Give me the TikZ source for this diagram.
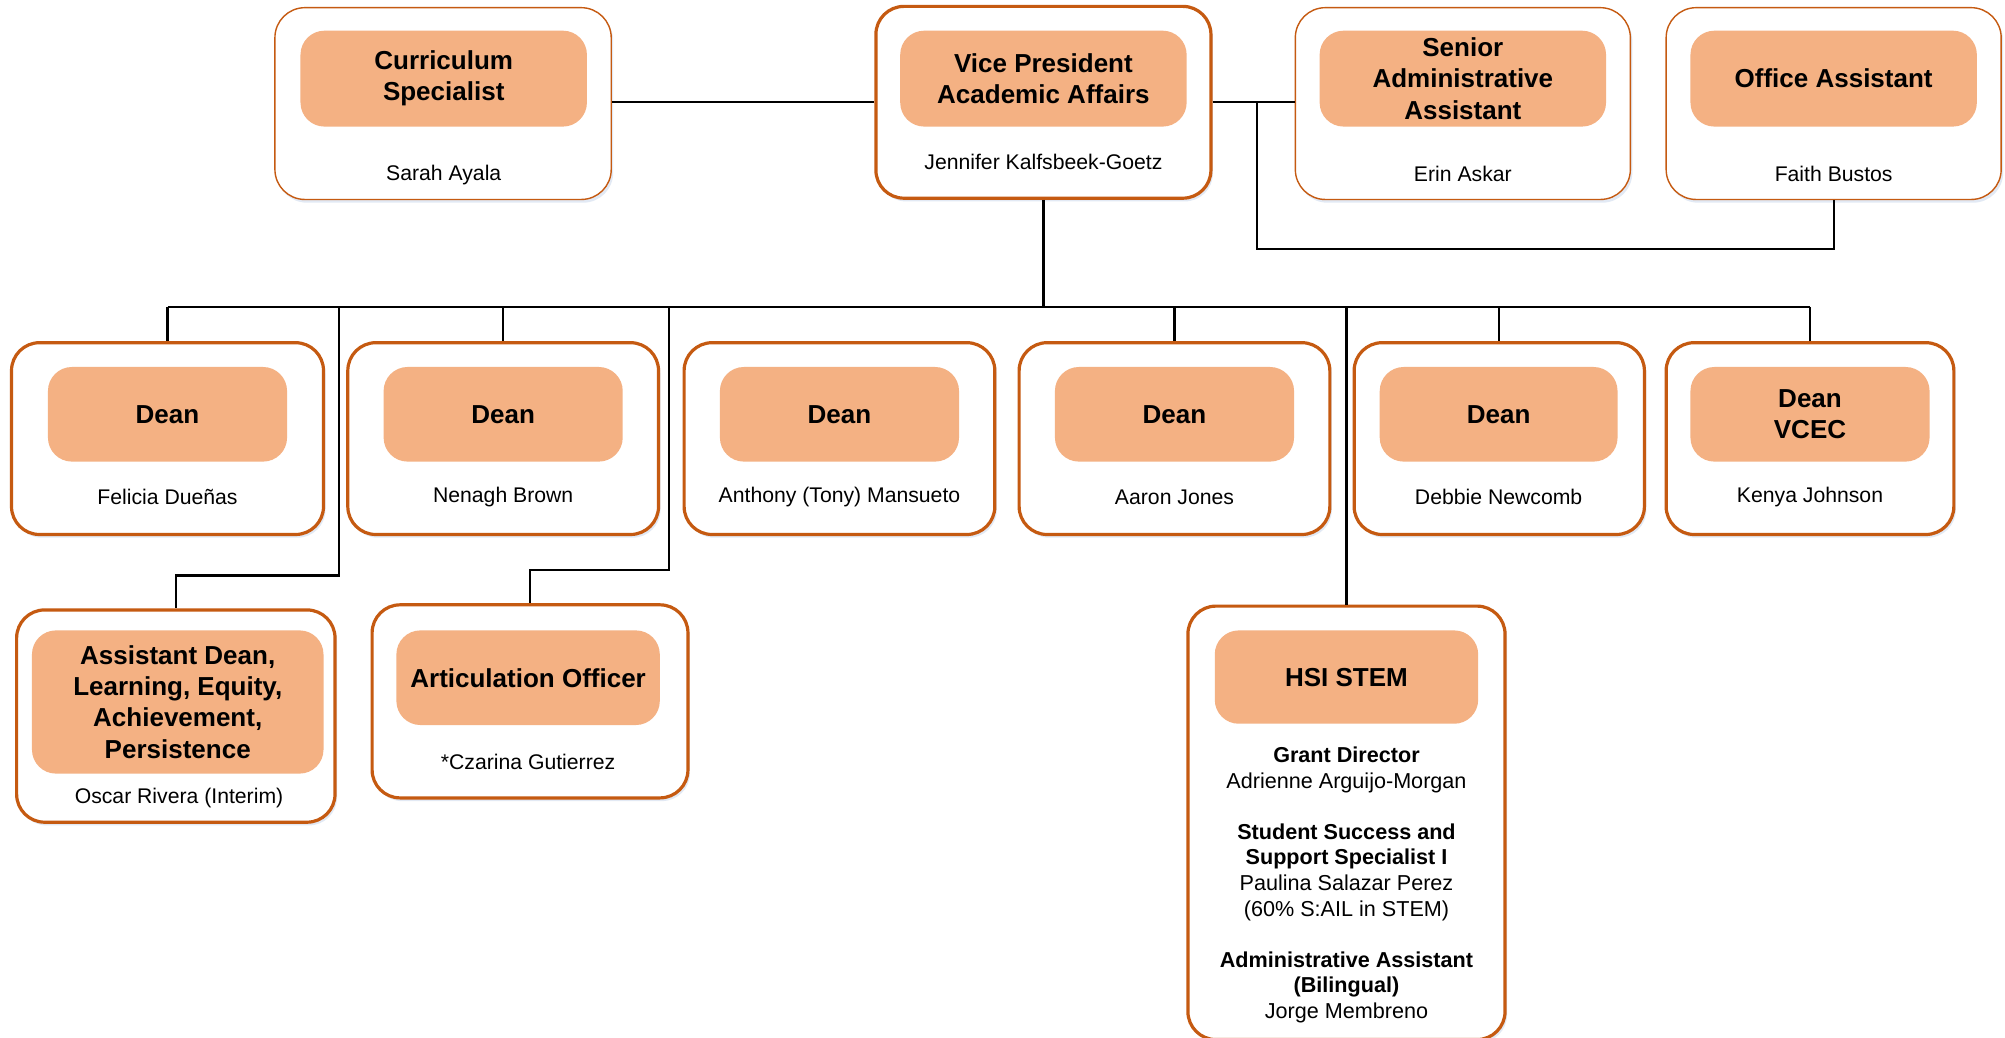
\documentclass[tikz,border=0pt]{standalone}
\usepackage{fontspec}
\setmainfont{Liberation Sans}
\usetikzlibrary{shadows}
\definecolor{bord}{HTML}{C55A11}
\definecolor{fillc}{HTML}{F4B183}
\definecolor{glowc}{HTML}{D6E1F0}
\newcommand\ttlfont{\fontsize{13}{15.6}\selectfont\bfseries}
\newcommand\nmfont{\fontsize{10.6}{12.7}\selectfont}
\newcommand\hsifont{\fontsize{10.8}{12.8}\selectfont}
\tikzset{
 sz/.style 2 args={minimum width=#1*0.63936pt, minimum height=#2*0.63936pt},
 shad/.style={drop shadow={shadow xshift=1pt, shadow yshift=-1.6pt, fill=glowc, opacity=0.7}},
 outthin/.style={draw=bord, line width=0.7pt, fill=white, rounded corners=15pt, inner sep=0pt, shad},
 outthick/.style={draw=bord, line width=1.6pt, fill=white, rounded corners=14pt, inner sep=0pt, shad},
 inbox/.style={fill=fillc, rounded corners=12pt, inner sep=0pt, align=center, font=\ttlfont},
 nm/.style={font=\nmfont, inner sep=0pt, align=center},
 conn/.style={draw=black, line width=1.1pt},
}
\begin{document}
\begin{tikzpicture}[x=0.63936pt, y=-0.63936pt]
\useasboundingbox (0,0) rectangle (1568,811);
\clip (0,0) rectangle (1568,811);
\fill[white] (0,0) rectangle (1568,811);

% top row
\node[outthin, sz={263}{150}] (cs) at (346.5,81) {};
\node[inbox, sz={224}{75}] (csi) at (347,61.5) {Curriculum\\Specialist};
\node[nm] (csn) at (347,137) {Sarah Ayala};

\node[outthick, sz={262}{150}] (vp) at (816,80) {};
\node[inbox, sz={224}{75}] (vpi) at (816,61.5) {Vice President\\Academic Affairs};
\node[nm] (vpn) at (816,127) {Jennifer Kalfsbeek-Goetz};

\node[outthin, sz={262}{150}] (sa) at (1144,81) {};
\node[inbox, sz={224}{75}] (sai) at (1144,61.5) {Senior\\Administrative\\Assistant};
\node[nm] (san) at (1144,136) {Erin Askar};

\node[outthin, sz={262}{150}] (oa) at (1434,81) {};
\node[inbox, sz={224}{75}] (oai) at (1434,61.5) {Office Assistant};
\node[nm] (oan) at (1434,136) {Faith Bustos};

% deans row
\node[outthick, sz={244}{150}] (d1) at (131,343) {};
\node[inbox, sz={187}{74}] (d1i) at (131,324) {Dean};
\node[nm] (d1n) at (131,389) {Felicia Dueñas};

\node[outthick, sz={243}{150}] (d2) at (393.5,343) {};
\node[inbox, sz={187}{74}] (d2i) at (393.5,324) {Dean};
\node[nm] (d2n) at (393.5,389) {Nenagh Brown};

\node[outthick, sz={243}{150}] (d3) at (656.5,343) {};
\node[inbox, sz={187}{74}] (d3i) at (656.5,324) {Dean};
\node[nm] (d3n) at (656.5,389) {Anthony (Tony) Mansueto};

\node[outthick, sz={243}{150}] (d4) at (918.5,343) {};
\node[inbox, sz={187}{74}] (d4i) at (918.5,324) {Dean};
\node[nm] (d4n) at (918.5,389) {Aaron Jones};

\node[outthick, sz={227}{150}] (d5) at (1172.5,343) {};
\node[inbox, sz={186}{74}] (d5i) at (1172,324) {Dean};
\node[nm] (d5n) at (1172,389) {Debbie Newcomb};

\node[outthick, sz={225}{150}] (d6) at (1415.5,343) {};
\node[inbox, sz={187}{74}] (d6i) at (1415.5,324) {Dean\\VCEC};
\node[nm] (d6n) at (1415.5,389) {Kenya Johnson};

% third row
\node[outthick, sz={249}{166}] (ad) at (137.5,560) {};
\node[inbox, sz={228}{112}] (adi) at (139,549) {Assistant Dean,\\Learning, Equity,\\Achievement,\\Persistence};
\node[nm] (adn) at (140,624) {Oscar Rivera (Interim)};

\node[outthick, sz={247}{151}] (ao) at (414.5,548.5) {};
\node[inbox, sz={206}{74}] (aoi) at (413,530) {Articulation Officer};
\node[nm] (aon) at (413,596) {*Czarina Gutierrez};

\node[outthick, sz={248}{339}] (hsi) at (1053,643.5) {};
\node[inbox, sz={206}{73}] (hsii) at (1053,529.5) {HSI STEM};
\node[font=\hsifont, align=center, inner sep=0pt] (hsit) at (1053,692) {\textbf{Grant Director}\\Adrienne Arguijo-Morgan\\[12.8pt]\textbf{Student Success and}\\\textbf{Support Specialist I}\\Paulina Salazar Perez\\(60\% S:AIL in STEM)\\[12.8pt]\textbf{Administrative Assistant}\\\textbf{(Bilingual)}\\Jorge Membreno};

% connectors
\coordinate (bus) at (816,240);
\coordinate (j1) at (983,80);
\coordinate (ka) at (265,240);
\coordinate (kb) at (523,240);
\draw[conn] (cs.east |- vp.west) -- (vp.west);
\draw[conn] (vp.east) -- (vp.east -| sa.west);
\draw[conn] (j1) -- (983,195) -| (oa.south);
\draw[conn] (vp.south) -- (bus);
\draw[conn] (d1.north |- bus) -- (d6.north |- bus);
\foreach \n in {d1,d2,d4,d5,d6,hsi} \draw[conn] (\n.north |- bus) -- (\n.north);
\draw[conn] (ka) -- (265,450) -| (ad.north);
\draw[conn] (kb) -- (523,446) -| (ao.north);
\end{tikzpicture}
\end{document}
